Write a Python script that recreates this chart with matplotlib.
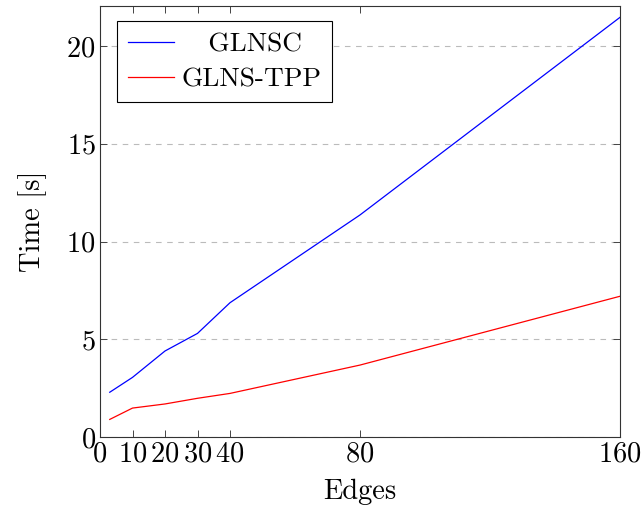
import matplotlib
matplotlib.use("Agg")
import matplotlib.pyplot as plt

edges = [3, 10, 20, 30, 40, 80, 160]
glnsc = [2.29, 3.05, 4.4, 5.3, 6.87, 11.36, 21.47]
glns_tpp = [0.9, 1.48, 1.69, 1.98, 2.23, 3.68, 7.2]
xticks = [0, 10, 20, 30, 40, 80, 160]
yticks = [0, 5, 10, 15, 20]

plt.rcParams['font.family'] = 'cmr10'
plt.rcParams['axes.formatter.use_mathtext'] = True
plt.rcParams['mathtext.fontset'] = 'cm'

fig = plt.figure(figsize=(6.41, 5.12), dpi=100)
ax = fig.add_axes([100/641, 75/512, 520/641, 431/512])
ax.plot(edges, glnsc, color='blue', lw=0.9, label='   GLNSC')
ax.plot(edges, glns_tpp, color='red', lw=0.9, label='GLNS-TPP')
ax.set_xlim(0, 160)
ax.set_ylim(0, 22.05)
ax.set_xticks(xticks)
ax.set_yticks(yticks)
ax.tick_params(direction='in', top=True, right=True, labelsize=20.5, length=5, width=0.7,
               color='#444444', pad=3)
ax.grid(axis='y', ls=(0, (5, 5)), color='#bbbbbb', lw=0.8)
ax.set_axisbelow(True)
for s in ax.spines.values():
    s.set_linewidth(0.8)
    s.set_color('#333333')
ax.set_xlabel('Edges', fontsize=20.5, labelpad=8)
ax.set_ylabel('Time [s]', fontsize=20.5, labelpad=14)
leg = ax.legend(loc='upper left', fontsize=19.7, fancybox=False, edgecolor='black',
                framealpha=1, bbox_to_anchor=(17/520, 1 - 15/431), borderaxespad=0,
                handlelength=1.7, handletextpad=0.25, borderpad=0.4, labelspacing=0.4)
leg.get_frame().set_linewidth(0.8)
fig.savefig('out.png', dpi=100)
